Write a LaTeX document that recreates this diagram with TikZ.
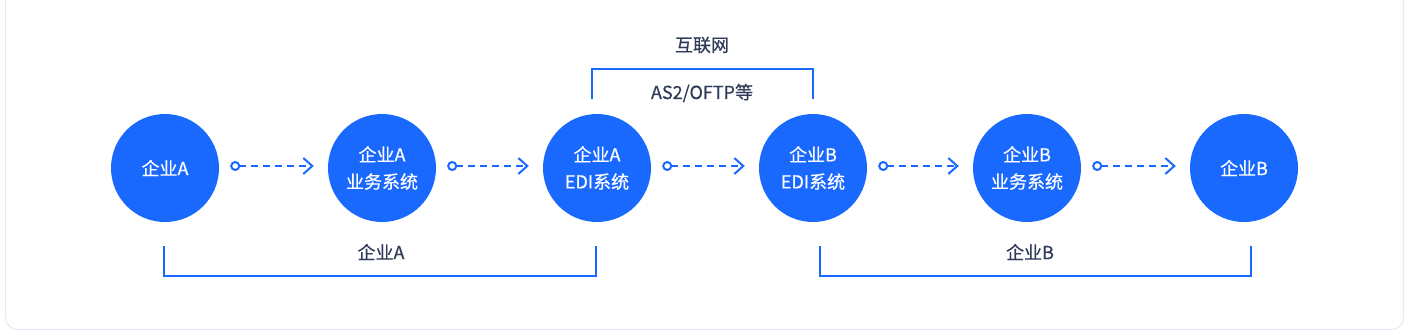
\documentclass[tikz,border=0pt]{standalone}
\usepackage{fontspec}
\setmainfont{Noto Sans CJK SC}
\newfontfamily\medfont[FakeBold=0.5]{Noto Sans CJK SC}
\usetikzlibrary{arrows.meta,calc}
\definecolor{eblue}{HTML}{1A69FF}
\definecolor{etext}{HTML}{2F3B59}
\definecolor{panel}{HTML}{E2EAF6}
\tikzset{
  x=1pt,y=-1pt,
  ent/.style={circle,fill=eblue,minimum size=108pt,inner sep=0pt,text=white,font=\medfont\fontsize{18}{27}\selectfont,align=center},
  flow/.style={draw=eblue,line width=2pt,dash pattern=on 7pt off 5pt,
    {Circle[open,length=10pt,width=10pt,line width=2pt]}-{Straight Barb[length=9pt,width=16pt,line width=2pt]},
    shorten <=11pt,shorten >=14pt},
  brk/.style={draw=eblue,line width=1.6pt},
  lbl/.style={text=etext,font=\medfont\fontsize{18}{22}\selectfont,inner sep=0pt}
}
\begin{document}
\begin{tikzpicture}
\useasboundingbox (0,0) rectangle (1408,335);
\draw[panel,line width=1pt,fill=white,rounded corners=12pt] (5.5,-20) rectangle (1403.5,329.5);
\node[ent] (c1) at (165,168) {企业A};
\node[ent] (c2) at (382,168) {企业A\\业务系统};
\node[ent] (c3) at (597,168) {企业A\\EDI系统};
\node[ent] (c4) at (813,168) {企业B\\EDI系统};
\node[ent] (c5) at (1027,168) {企业B\\业务系统};
\node[ent] (c6) at (1244,168) {企业B};
\foreach \a/\b in {c1/c2,c2/c3,c3/c4,c4/c5,c5/c6}{
  \draw[flow] ([yshift=2pt]\a.east) -- ([yshift=2pt]\b.west);
}
% top bracket
\coordinate (t1) at (592,99);
\coordinate (t2) at (813,99);
\draw[brk] (t1) -- (592,69) -- (813,69) -- (t2);
\node[lbl] (inet) at (702,45) {互联网};
\node[lbl] (proto) at (702,93) {AS2/OFTP等};
% bottom brackets
\coordinate (a1) at (164,246);
\coordinate (a2) at (596,246);
\draw[brk] (a1) -- (164,276) -- (596,276) -- (a2);
\node[lbl] (la) at (381,252) {企业A};
\coordinate (b1) at (820,246);
\coordinate (b2) at (1251,246);
\draw[brk] (b1) -- (820,276) -- (1251,276) -- (b2);
\node[lbl] (lb) at (1030,252) {企业B};
\end{tikzpicture}
\end{document}
